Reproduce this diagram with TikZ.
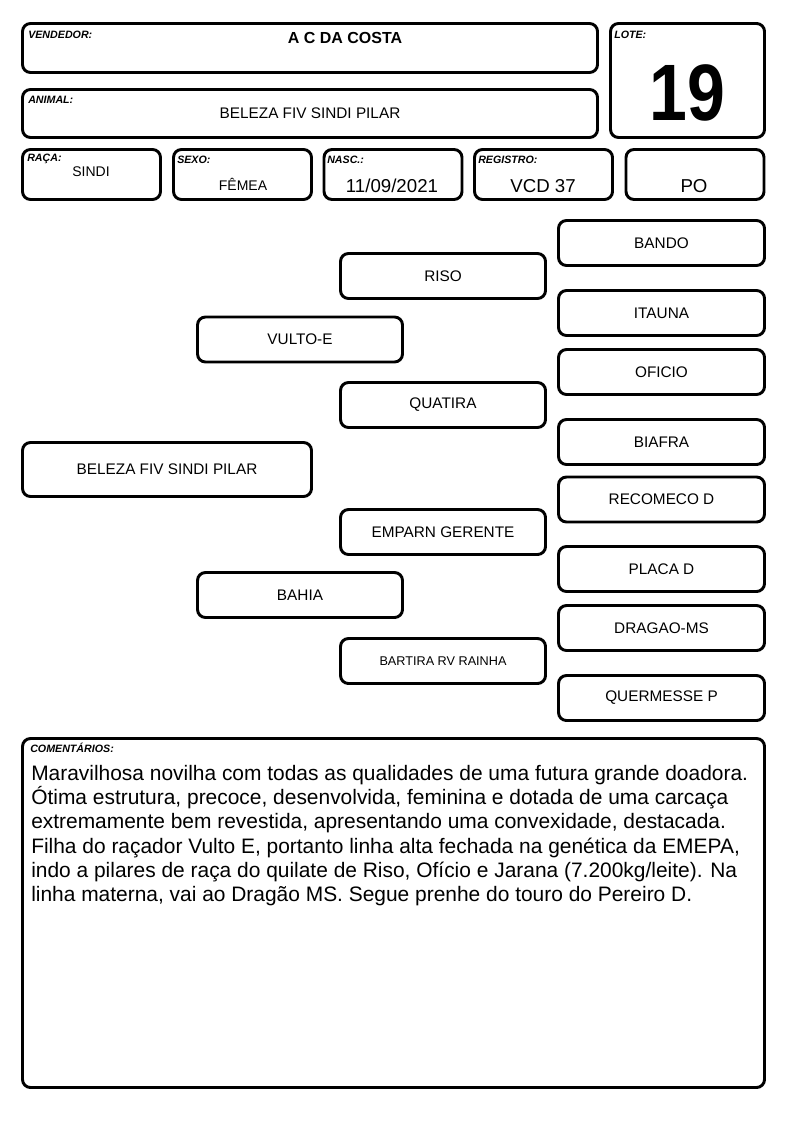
\documentclass[tikz,border=0pt]{standalone}
\usepackage{fontspec}
\setmainfont{Liberation Sans}
\usepackage{graphicx}

\begin{document}
\begin{tikzpicture}[x=0.75pt, y=-0.75pt]
	% Define styles for boxes and texts
	\tikzset{box/.style={draw, rounded corners=6pt, line width=2.2pt, inner sep=0pt, align=center, font=\fontsize{11.5}{13}\selectfont},
		hbox/.style={box, minimum width=103.5pt, minimum height=37.5pt},
		pbox/.style={box, minimum width=153.75pt, minimum height=33.75pt},
		gbox/.style={box, minimum width=154.5pt, minimum height=33.75pt},
		tag/.style={anchor=base west, inner sep=0pt, font=\fontsize{8}{9}\selectfont\bfseries\itshape},
		val/.style={inner sep=0pt, font=\fontsize{14}{16}\selectfont}}
	
	\fill[white] (0,0) rectangle (794,1123);
	\useasboundingbox (0,0) rectangle (794,1123);
	
	% header
	\node[box, minimum width=431.25pt, minimum height=36.75pt] (vendedor) at (310,48) {};
	\node[box, minimum width=115.5pt, minimum height=85.5pt] (lote) at (687.5,80.5) {};
	\node[box, minimum width=431.25pt, minimum height=36pt] (animal) at (310,113.5) {};
	\node[hbox] (raca) at (91.5,174.5) {};
	\node[hbox] (sexo) at (242.5,174.5) {};
	\node[hbox] (nasc) at (393,174.5) {};
	\node[hbox] (registro) at (543.5,174.5) {};
	\node[hbox] (po) at (695,174.5) {};
	
	\node[tag] (tvendedor) at (28,39) {VENDEDOR:};
	\node[tag] (tlote) at (614,39) {LOTE:};
	\node[tag] (tanimal) at (28,104) {ANIMAL:};
	\node[tag] (traca) at (27,162) {RAÇA:};
	\node[tag] (tsexo) at (177,164) {SEXO:};
	\node[tag] (tnasc) at (327,164) {NASC.:};
	\node[tag] (tregistro) at (478,164) {REGISTRO:};
	
	\node[inner sep=0pt, font=\fontsize{12}{14}\selectfont\bfseries] (nvendedor) at (345,38) {A C DA COSTA};
	\node[inner sep=0pt, font=\fontsize{60}{60}\selectfont\bfseries] (nlote) at (687.5,93) {\scalebox{0.85}[1]{19}};
	\node[inner sep=0pt, font=\fontsize{11.5}{13}\selectfont] (nanimal) at (310,113) {BELEZA FIV SINDI PILAR};
	\node[inner sep=0pt, font=\fontsize{10.5}{12}\selectfont] (nraca) at (91,172) {SINDI};
	\node[inner sep=0pt, font=\fontsize{10.5}{12}\selectfont] (nsexo) at (243,184) {FÊMEA};
	\node[val] (nnasc) at (392,186) {11/09/2021};
	\node[val] (nregistro) at (543,186) {VCD 37};
	\node[val] (npo) at (694,186) {PO};
	
	% pedigree
	\node[box, minimum width=216.75pt, minimum height=40.5pt] (bel) at (167,469.5) {BELEZA FIV SINDI PILAR};
	
	\node[pbox] (vulto) at (300,339.5) {VULTO-E};
	\node[pbox] (bahia) at (300,595) {BAHIA};
	
	\node[pbox] (riso) at (443,276) {RISO};
	\node[pbox] (quatira) at (443,405) {QUATIRA};
	\node[pbox] (emparn) at (443,532) {EMPARN GERENTE};
	\node[pbox, font=\fontsize{9.5}{11}\selectfont] (bartira) at (443,661) {BARTIRA RV RAINHA};
	
	\node[gbox] (bando) at (661.5,243) {BANDO};
	\node[gbox] (itauna) at (661.5,313) {ITAUNA};
	\node[gbox] (oficio) at (661.5,372) {OFICIO};
	\node[gbox] (biafra) at (661.5,442) {BIAFRA};
	\node[gbox] (recomeco) at (661.5,499.5) {RECOMECO D};
	\node[gbox] (placa) at (661.5,569) {PLACA D};
	\node[gbox] (dragao) at (661.5,628) {DRAGAO-MS};
	\node[gbox] (quermesse) at (661.5,698) {QUERMESSE P};
	
	% comments
	\node[box, minimum width=556.5pt, minimum height=261.75pt] (coment) at (393.5,913) {};
	\node[tag] (tcoment) at (30,752) {COMENTÁRIOS:};
	\node[anchor=north west, inner sep=0pt, align=left, font=\fontsize{15.7}{18.15}\selectfont] (ncoment) at (31,765)
	{Maravilhosa novilha com todas as qualidades de uma futura grande doadora.\\
		Ótima estrutura, precoce, desenvolvida, feminina e dotada de uma carcaça\\
		extremamente bem revestida, apresentando uma convexidade, destacada.\\
		Filha do raçador Vulto E, portanto linha alta fechada na genética da EMEPA,\\
		indo a pilares de raça do quilate de Riso, Ofício e Jarana (7.200kg/leite). Na\\
		linha materna, vai ao Dragão MS. Segue prenhe do touro do Pereiro D.};
\end{tikzpicture}
\end{document}
